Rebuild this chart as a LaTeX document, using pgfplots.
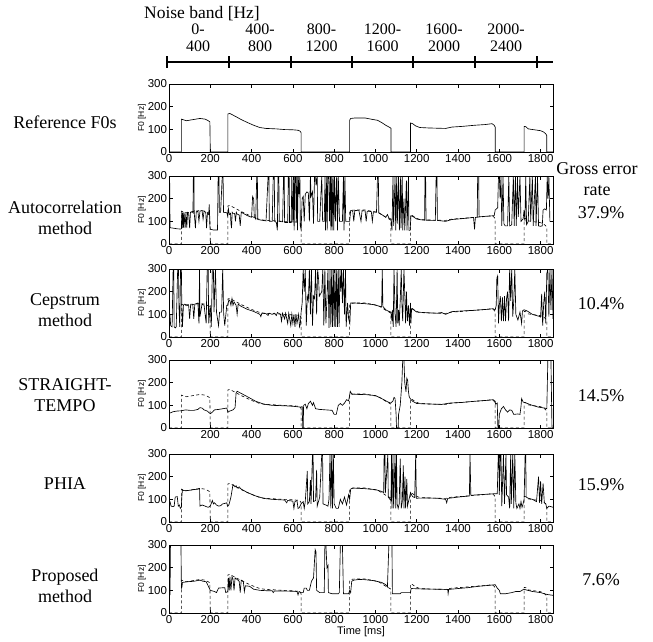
\documentclass[border=0pt]{standalone}
\usepackage{fontspec}
\setmainfont{Liberation Serif}
\newfontfamily\helv{Liberation Sans}
\usepackage{pgfplots}
\usepackage{pgfplotstable}
\pgfplotsset{compat=1.18}

% reference F0 contour (shown alone in panel 1, dashed under every estimate)
\pgfplotstableread[row sep=\\,header=false]{
0 0\\60 0\\60 145\\70 142\\85 138\\110 142\\150 148\\175 145\\190 138\\198 133\\200 0\\
285 0\\285 168\\295 170\\320 158\\350 143\\380 130\\410 118\\440 108\\470 104\\520 102\\560 99\\600 98\\625 96\\635 92\\640 85\\640 0\\
875 0\\875 140\\880 148\\900 150\\950 150\\990 143\\1010 140\\1030 130\\1050 118\\1070 108\\1075 105\\1075 0\\
1170 0\\1170 128\\1180 125\\1195 115\\1215 108\\1260 106\\1300 105\\1340 104\\1370 110\\1420 113\\1480 118\\1530 121\\1565 125\\1575 118\\1580 110\\1580 0\\
1720 0\\1720 113\\1728 112\\1740 102\\1770 98\\1800 94\\1815 88\\1825 80\\1830 72\\1830 0\\1860 0\\
}\refdata

\pgfplotstableread[row sep=\\,header=false]{
0 300\\3 300\\5 72\\20 70\\40 67\\58 66\\60 68\\62 140\\64 70\\67 138\\70 72\\73 140\\78 70\\82 138\\86 72\\90 140\\95 138\\100 70\\104 140\\112 142\\116 138\\118 300\\121 300\\122 140\\128 70\\132 142\\140 145\\145 100\\150 145\\160 148\\165 110\\170 145\\178 140\\182 70\\186 135\\192 130\\195 175\\198 80\\200 65\\215 62\\235 62\\238 300\\242 300\\244 140\\250 140\\258 300\\262 300\\264 140\\280 138\\284 125\\288 155\\292 130\\298 135\\300 90\\303 70\\306 140\\310 135\\318 135\\322 100\\326 140\\330 132\\340 128\\345 80\\350 140\\360 135\\380 125\\400 118\\405 210\\410 200\\413 120\\420 110\\425 300\\428 300\\430 108\\470 102\\480 300\\484 300\\486 100\\500 100\\505 300\\510 300\\512 100\\520 95\\525 60\\528 300\\532 300\\534 100\\550 98\\555 300\\558 300\\560 95\\575 95\\578 300\\582 300\\584 95\\592 95\\595 300\\600 95\\604 300\\606 60\\610 300\\614 300\\616 95\\620 300\\622 60\\626 300\\630 220\\634 300\\636 80\\640 65\\645 200\\650 210\\655 100\\660 220\\668 230\\675 225\\680 100\\685 300\\688 210\\695 230\\700 90\\705 300\\710 300\\712 260\\718 300\\720 100\\730 100\\740 300\\744 100\\752 100\\756 300\\758 60\\764 300\\766 60\\770 300\\775 300\\777 100\\782 300\\784 60\\788 300\\790 60\\795 300\\798 60\\802 300\\806 100\\812 300\\816 60\\820 300\\826 100\\840 100\\845 300\\848 60\\852 300\\856 100\\870 100\\875 100\\880 148\\890 145\\895 100\\900 148\\920 147\\930 100\\935 147\\950 146\\955 100\\960 145\\980 143\\985 100\\990 142\\1005 140\\1010 300\\1014 300\\1016 138\\1030 130\\1050 118\\1058 130\\1065 115\\1075 110\\1080 60\\1085 300\\1088 80\\1095 300\\1098 60\\1103 300\\1106 90\\1112 300\\1116 60\\1122 300\\1124 70\\1130 300\\1132 60\\1138 200\\1142 60\\1150 280\\1153 60\\1160 300\\1162 60\\1168 60\\1172 125\\1180 122\\1200 110\\1220 107\\1238 105\\1240 300\\1243 300\\1245 105\\1290 104\\1294 300\\1298 300\\1300 104\\1340 100\\1370 108\\1420 112\\1475 117\\1480 65\\1484 117\\1493 118\\1495 300\\1500 300\\1502 120\\1560 124\\1575 125\\1580 150\\1592 160\\1596 300\\1600 300\\1604 200\\1608 300\\1612 80\\1618 300\\1622 90\\1628 80\\1640 80\\1646 300\\1650 80\\1660 85\\1668 300\\1672 80\\1678 300\\1682 80\\1688 300\\1692 120\\1700 300\\1705 100\\1715 110\\1720 150\\1724 100\\1728 300\\1732 85\\1740 100\\1748 300\\1752 100\\1760 300\\1764 80\\1775 300\\1778 80\\1785 300\\1790 80\\1800 78\\1808 80\\1812 150\\1820 155\\1828 150\\1832 300\\1836 200\\1840 300\\1845 100\\1860 100\\
}\autocorr

\pgfplotstableread[row sep=\\,header=false]{
0 100\\5 95\\8 50\\15 45\\20 300\\23 300\\25 45\\30 40\\35 45\\42 300\\46 300\\48 140\\52 45\\56 300\\60 300\\62 140\\65 45\\70 140\\75 145\\85 142\\95 142\\100 80\\105 145\\115 145\\120 80\\125 145\\135 148\\140 150\\145 60\\148 300\\150 90\\160 145\\170 140\\180 60\\185 300\\190 300\\192 60\\200 140\\205 45\\210 300\\215 300\\218 110\\225 300\\230 110\\240 50\\245 110\\255 110\\260 300\\265 100\\270 50\\280 140\\285 140\\290 165\\295 160\\300 140\\305 170\\310 140\\315 155\\325 140\\330 100\\335 145\\350 135\\380 122\\410 113\\440 100\\445 90\\450 105\\470 103\\480 95\\485 105\\500 100\\510 105\\520 95\\525 108\\540 100\\545 70\\550 105\\560 80\\565 105\\575 60\\580 105\\590 50\\595 100\\600 60\\605 100\\610 45\\615 100\\620 60\\628 100\\632 45\\636 55\\640 110\\645 150\\650 300\\655 200\\660 300\\665 50\\670 180\\675 160\\680 300\\685 100\\690 300\\695 50\\700 180\\705 170\\710 300\\715 100\\720 300\\725 250\\728 180\\740 200\\745 300\\750 50\\755 300\\760 60\\765 170\\770 300\\775 40\\780 300\\784 45\\788 300\\792 45\\796 300\\800 45\\804 300\\808 45\\812 300\\816 45\\820 300\\824 45\\828 300\\832 200\\836 300\\840 150\\845 300\\850 100\\855 300\\858 45\\865 150\\870 80\\876 60\\880 150\\900 150\\950 147\\990 143\\1030 133\\1033 300\\1036 135\\1050 120\\1060 115\\1075 110\\1080 70\\1082 120\\1086 45\\1090 300\\1095 100\\1100 45\\1105 300\\1108 60\\1112 120\\1115 50\\1120 160\\1125 300\\1128 150\\1132 70\\1138 300\\1142 190\\1146 60\\1150 200\\1155 70\\1160 140\\1165 50\\1170 150\\1172 60\\1175 125\\1185 120\\1200 110\\1250 107\\1300 105\\1320 108\\1340 100\\1370 112\\1420 115\\1480 118\\1540 122\\1570 125\\1580 120\\1585 140\\1588 260\\1592 270\\1596 60\\1600 140\\1605 180\\1610 70\\1615 175\\1620 70\\1625 180\\1630 70\\1635 170\\1640 200\\1645 70\\1650 300\\1655 160\\1660 300\\1665 90\\1670 160\\1675 300\\1680 100\\1690 75\\1700 110\\1708 60\\1712 115\\1720 120\\1735 115\\1760 100\\1790 92\\1800 88\\1805 190\\1810 50\\1815 150\\1820 200\\1825 60\\1830 280\\1835 300\\1840 90\\1845 300\\1850 120\\1855 300\\1860 80\\
}\cepstrum

\pgfplotstableread[row sep=\\,header=false]{
0 65\\10 68\\20 72\\40 75\\60 76\\80 80\\100 78\\120 78\\140 82\\150 90\\160 88\\170 80\\185 75\\200 63\\210 70\\220 80\\240 82\\260 85\\280 88\\285 70\\295 75\\310 80\\320 90\\325 155\\330 162\\345 155\\380 138\\420 118\\460 105\\500 100\\560 98\\600 96\\630 93\\640 92\\645 95\\648 0\\650 0\\652 100\\660 105\\668 85\\675 108\\685 118\\695 100\\700 112\\710 85\\730 82\\760 80\\790 78\\800 60\\810 60\\820 100\\830 108\\840 100\\850 110\\860 125\\870 120\\873 135\\878 162\\885 150\\920 148\\960 147\\1000 143\\1030 130\\1060 115\\1075 110\\1085 120\\1090 135\\1095 130\\1100 60\\1102 0\\1110 0\\1112 60\\1120 100\\1128 200\\1132 300\\1138 300\\1142 200\\1148 160\\1152 220\\1156 210\\1160 160\\1163 140\\1168 130\\1180 118\\1200 108\\1260 106\\1320 104\\1360 110\\1420 113\\1480 118\\1540 122\\1570 125\\1580 118\\1582 105\\1590 110\\1593 0\\1597 0\\1600 60\\1610 85\\1620 95\\1630 80\\1640 70\\1650 80\\1660 78\\1670 60\\1690 62\\1700 60\\1705 95\\1708 130\\1715 115\\1730 110\\1760 100\\1790 92\\1820 88\\1830 85\\1835 300\\1850 300\\1855 0\\1860 0\\
}\straight

\pgfplotstableread[row sep=\\,header=false]{
0 95\\5 90\\10 70\\20 68\\25 70\\30 110\\40 112\\45 70\\50 75\\55 60\\60 65\\62 110\\65 140\\80 138\\100 140\\120 143\\140 145\\148 148\\150 70\\160 75\\170 72\\180 68\\190 65\\200 70\\210 95\\215 80\\220 85\\230 75\\240 70\\250 72\\260 80\\270 82\\280 85\\283 70\\290 75\\300 110\\310 165\\320 155\\325 160\\330 150\\340 155\\350 145\\380 130\\420 115\\460 104\\500 100\\540 98\\560 97\\570 85\\575 95\\600 92\\605 60\\610 90\\620 95\\625 60\\630 62\\640 80\\650 90\\655 60\\660 90\\670 225\\672 80\\680 90\\685 185\\688 80\\695 300\\698 300\\700 90\\710 95\\715 230\\718 70\\730 110\\740 300\\744 300\\746 80\\760 75\\770 70\\775 100\\780 300\\784 60\\788 300\\792 60\\796 300\\800 80\\810 60\\820 60\\830 100\\840 80\\850 110\\860 75\\870 120\\875 100\\880 145\\890 150\\950 147\\1000 143\\1030 135\\1040 130\\1042 300\\1046 300\\1048 128\\1060 300\\1062 110\\1070 100\\1075 95\\1078 300\\1080 60\\1085 300\\1088 60\\1095 300\\1098 60\\1102 300\\1105 80\\1110 60\\1115 80\\1120 280\\1125 60\\1130 90\\1135 250\\1138 60\\1143 200\\1146 60\\1152 190\\1155 70\\1165 110\\1170 130\\1175 120\\1180 112\\1190 108\\1195 300\\1198 105\\1250 106\\1300 105\\1340 100\\1345 85\\1350 104\\1400 110\\1455 115\\1458 300\\1462 118\\1530 122\\1580 125\\1590 125\\1595 300\\1598 300\\1600 120\\1605 300\\1608 300\\1612 70\\1620 300\\1625 80\\1632 300\\1635 120\\1645 110\\1650 60\\1655 300\\1658 80\\1665 300\\1670 60\\1675 300\\1680 85\\1685 60\\1695 80\\1700 60\\1705 90\\1710 65\\1715 80\\1720 100\\1725 300\\1728 300\\1730 110\\1740 105\\1760 100\\1780 90\\1790 200\\1795 85\\1800 180\\1805 80\\1812 170\\1818 85\\1825 80\\1830 60\\1840 70\\1850 68\\1860 65\\
}\phia

\pgfplotstableread[row sep=\\,header=false]{
0 80\\5 80\\7 300\\58 300\\60 110\\63 115\\65 135\\90 138\\120 140\\150 145\\165 140\\180 138\\195 110\\200 100\\220 95\\230 90\\240 110\\270 112\\275 90\\285 95\\288 155\\292 100\\295 160\\300 100\\305 160\\310 150\\315 100\\320 155\\330 148\\340 140\\345 90\\350 145\\360 140\\365 95\\370 120\\390 118\\410 105\\440 100\\480 98\\500 98\\505 90\\510 97\\560 97\\600 96\\620 95\\625 80\\630 95\\640 90\\650 90\\655 110\\665 110\\670 100\\680 100\\690 140\\700 155\\708 280\\712 270\\715 100\\730 90\\752 90\\755 300\\760 300\\765 200\\770 210\\772 90\\790 85\\820 85\\825 90\\830 300\\840 300\\845 85\\870 85\\875 100\\880 90\\885 140\\895 145\\920 148\\950 147\\990 143\\1030 135\\1050 125\\1058 115\\1065 300\\1080 300\\1082 85\\1120 85\\1125 90\\1170 90\\1172 105\\1175 108\\1230 106\\1300 105\\1350 104\\1352 85\\1355 104\\1400 108\\1450 112\\1500 118\\1550 122\\1580 125\\1590 110\\1600 100\\1605 85\\1630 85\\1660 90\\1680 95\\1700 95\\1710 100\\1718 105\\1730 102\\1760 95\\1800 90\\1830 82\\1860 78\\
}\proposed

\pgfplotsset{
  panel/.style={
    width=384pt, height=68pt, scale only axis,
    anchor=north west,
    xmin=0, xmax=1860, ymin=0, ymax=300,
    xtick={0,200,...,1800}, ytick={0,100,200,300},
    tick align=inside, major tick length=3.5pt,
    axis line style={line width=0.9pt},
    every tick/.style={black, line width=0.6pt},
    tick label style={font=\helv\fontsize{11.5}{12}\selectfont},
    /pgf/number format/assume math mode=true,
    /pgf/number format/1000 sep={},
    xticklabel style={yshift=1.5pt},
    yticklabel style={xshift=1.5pt},
    ylabel={F0 [Hz]},
    ylabel style={font=\helv\fontsize{8.5}{9}\selectfont, yshift=-5pt},
  },
  est/.style={black, line width=0.65pt},
  refd/.style={black, line width=0.6pt, dash pattern=on 3pt off 2.5pt},
}

\begin{document}
\begin{tikzpicture}
\useasboundingbox (-169pt,0pt) rectangle (484pt,-641pt);

% noise band bar
\draw[line width=1.1pt] (-2pt,-62pt) -- (384pt,-62pt);
\foreach \t in {-2,60,122,183,244,306,368}
  \draw[line width=1.1pt] (\t pt,-56pt) -- (\t pt,-68pt);
\node[font=\fontsize{17.5}{19}\selectfont] at (33pt,-14pt) {Noise band [Hz]};
\foreach \c/\lo/\hi in {29/0-/400, 91/400-/800, 152.5/800-/1200, 213.5/1200-/1600, 275/1600-/2000, 337/2000-/2400}
  \node[font=\fontsize{16}{17}\selectfont, align=center] at (\c pt,-38pt) {\lo\\\hi};

% left labels
\begin{scope}[every node/.style={font=\fontsize{18}{21}\selectfont, align=center}]
\node at (-104pt,-122pt) {Reference F0s};
\node at (-104pt,-217.5pt) {Autocorrelation\\method};
\node at (-104pt,-310pt) {Cepstrum\\method};
\node at (-104pt,-395pt) {STRAIGHT-\\TEMPO};
\node at (-104pt,-484pt) {PHIA};
\node at (-104pt,-586pt) {Proposed\\method};
% right labels
\node at (428pt,-179pt) {Gross error\\rate};
\node at (432pt,-213pt) {37.9\%};
\node at (432pt,-304pt) {10.4\%};
\node at (432pt,-396pt) {14.5\%};
\node at (432pt,-485pt) {15.9\%};
\node at (432pt,-580pt) {7.6\%};
\end{scope}

\begin{axis}[panel, at={(0pt,-84pt)}]
\addplot[est] table[x index=0,y index=1] {\refdata};
\end{axis}

\begin{axis}[panel, at={(0pt,-176pt)}]
\addplot[refd] table[x index=0,y index=1] {\refdata};
\addplot[est] table[x index=0,y index=1] {\autocorr};
\end{axis}

\begin{axis}[panel, at={(0pt,-269pt)}]
\addplot[refd] table[x index=0,y index=1] {\refdata};
\addplot[est] table[x index=0,y index=1] {\cepstrum};
\end{axis}

\begin{axis}[panel, at={(0pt,-360pt)}, xtick={200,400,...,1800}]
\addplot[refd] table[x index=0,y index=1] {\refdata};
\addplot[est] table[x index=0,y index=1] {\straight};
\end{axis}

\begin{axis}[panel, at={(0pt,-454pt)}]
\addplot[refd] table[x index=0,y index=1] {\refdata};
\addplot[est] table[x index=0,y index=1] {\phia};
\end{axis}

\begin{axis}[panel, at={(0pt,-545pt)}, xlabel={Time [ms]},
  xlabel style={font=\helv\fontsize{11}{12}\selectfont, yshift=4pt}]
\addplot[refd] table[x index=0,y index=1] {\refdata};
\addplot[est] table[x index=0,y index=1] {\proposed};
\end{axis}
\end{tikzpicture}
\end{document}
